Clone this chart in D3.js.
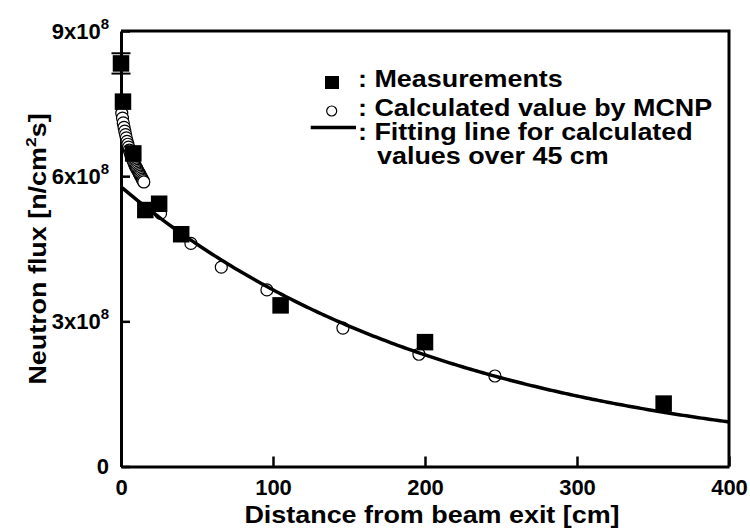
<!DOCTYPE html>
<html>
<head>
<meta charset="utf-8">
<script src="https://cdn.jsdelivr.net/npm/d3@7"></script>
<style>
  body { margin: 0; background: #fff; }
  text { font-family: "Liberation Sans", Arial, sans-serif; font-weight: bold; fill: #000; }
</style>
</head>
<body>
<div id="chart"></div>
<script>
// values in units of 10^8 n/cm^2 s
var measX = [0, 1.3, 8.1, 16, 25.1, 39.6, 105, 200, 357];
var measY = [8.33, 7.54, 6.47, 5.30, 5.43, 4.80, 3.33, 2.57, 1.30];
var measErr = [0.21, 0, 0, 0, 0, 0, 0, 0, 0];

var calcX = [0.5, 1, 1.5, 2, 2.5, 3, 3.5, 4, 4.5, 5, 5.5, 6, 6.5, 7, 7.5, 8, 8.5, 9, 9.5, 10,
  10.5, 11, 11.5, 12, 12.5, 13, 13.5, 14, 14.5, 15, 26, 46, 66, 96, 146, 196, 246];
var calcY = [7.30, 7.20, 7.10, 7.01, 6.93, 6.86, 6.79, 6.72, 6.66, 6.60, 6.54, 6.49, 6.44, 6.40, 6.36,
  6.32, 6.28, 6.24, 6.21, 6.18, 6.15, 6.12, 6.09, 6.06, 6.03, 6.00, 5.97, 5.94, 5.91, 5.88,
  5.23, 4.61, 4.12, 3.65, 2.86, 2.32, 1.87];

// exponential fit to calculated values over 45 cm: A * exp(-x / L)
var fitA = 5.78;
var fitL = 217.7;

var xTicks = [0, 100, 200, 300, 400];
var yTicks = [0, 3, 6, 9];
var yTickMant = ["0", "3x10", "6x10", "9x10"];
var yTickExp = ["", "8", "8", "8"];

var legendLabels = [": Measurements", ": Calculated value by MCNP", ": Fitting line for calculated", "values over 45 cm"];

var svgWidth = 750, svgHeight = 530;
var plotL = 121, plotR = 729, plotT = 31, plotB = 466.5;
var stretch = 1.17;
var font = "'Liberation Sans', Arial, sans-serif";

var svg = d3.select("#chart").append("svg")
  .attr("width", svgWidth)
  .attr("height", svgHeight);

var x = d3.scaleLinear().domain([0, 400]).range([plotL, plotR]);
var y = d3.scaleLinear().domain([0, 9]).range([plotB, plotT]);

// frame (top + right)
svg.append("path")
  .attr("d", `M${plotL},${plotT}H${plotR}V${plotB}`)
  .attr("fill", "none")
  .attr("stroke", "#000")
  .attr("stroke-width", 3);

// x axis
var xAxis = svg.append("g")
  .attr("transform", `translate(0,${plotB})`)
  .call(d3.axisBottom(x).tickValues(xTicks).tickSize(-10).tickSizeOuter(0).tickPadding(13).tickFormat(d3.format("d")));
xAxis.select(".domain").attr("stroke-width", 3);
xAxis.selectAll(".tick line").attr("stroke-width", 2.5);
xAxis.selectAll(".tick text")
  .style("font-size", "22px")
  .style("font-family", font)
  .style("font-weight", "bold");

// y axis
var yAxis = svg.append("g")
  .attr("transform", `translate(${plotL},0)`)
  .call(d3.axisLeft(y).tickValues(yTicks).tickSize(-9).tickSizeOuter(0).tickPadding(12).tickFormat(""));
yAxis.select(".domain").attr("stroke-width", 3);
yAxis.selectAll(".tick line").attr("stroke-width", 2.5);
yAxis.selectAll(".tick text").each(function(d, i) {
  var t = d3.select(this)
    .style("font-size", "22px")
    .style("font-family", font)
    .style("font-weight", "bold");
  t.append("tspan").text(yTickMant[i]);
  if (yTickExp[i]) {
    t.append("tspan").attr("dy", -10).style("font-size", "15px").text(yTickExp[i]);
  }
});

// axis titles
svg.append("text")
  .attr("transform", `translate(432,523) scale(${stretch},1)`)
  .attr("text-anchor", "middle")
  .style("font-size", "23px")
  .text("Distance from beam exit [cm]");

var yTitle = svg.append("text")
  .attr("transform", `translate(46,249) rotate(-90) scale(${stretch},1)`)
  .attr("text-anchor", "middle")
  .style("font-size", "23px");
yTitle.append("tspan").text("Neutron flux [n/cm");
yTitle.append("tspan").attr("dy", -10).style("font-size", "15px").text("2");
yTitle.append("tspan").attr("dy", 10).text("s]");

// MCNP values
svg.append("g").selectAll("circle")
  .data(calcX)
  .enter()
  .append("circle")
  .attr("cx", (d, i) => x(d))
  .attr("cy", (d, i) => y(calcY[i]))
  .attr("r", 6)
  .attr("fill", "#fff")
  .attr("stroke", "#000")
  .attr("stroke-width", 1.2);

// fitting line
var fitPts = d3.range(0, 401, 2).map(d => [d, fitA * Math.exp(-d / fitL)]);
svg.append("path")
  .datum(fitPts)
  .attr("d", d3.line().x(d => x(d[0])).y(d => y(d[1])))
  .attr("fill", "none")
  .attr("stroke", "#000")
  .attr("stroke-width", 3.5);

// measurements with error bars
var sq = 16.5;
var errG = svg.append("g").attr("stroke", "#000").attr("stroke-width", 2);
measX.forEach(function(d, i) {
  if (!measErr[i]) return;
  var cx = x(d), y0 = y(measY[i] - measErr[i]), y1 = y(measY[i] + measErr[i]);
  errG.append("line").attr("x1", cx).attr("x2", cx).attr("y1", y0).attr("y2", y1);
  errG.append("line").attr("x1", cx - 9.5).attr("x2", cx + 9.5).attr("y1", y0).attr("y2", y0);
  errG.append("line").attr("x1", cx - 9.5).attr("x2", cx + 9.5).attr("y1", y1).attr("y2", y1);
});

svg.append("g").selectAll("rect")
  .data(measX)
  .enter()
  .append("rect")
  .attr("x", d => x(d) - sq / 2)
  .attr("y", (d, i) => y(measY[i]) - sq / 2)
  .attr("width", sq)
  .attr("height", sq)
  .attr("fill", "#000");

// legend
var legend = svg.append("g");
legend.append("rect")
  .attr("x", 325).attr("y", 76)
  .attr("width", 14).attr("height", 13)
  .attr("fill", "#000");
legend.append("circle")
  .attr("cx", 331.7).attr("cy", 111)
  .attr("r", 5)
  .attr("fill", "#fff")
  .attr("stroke", "#000")
  .attr("stroke-width", 1.2);
legend.append("line")
  .attr("x1", 310.7).attr("x2", 356)
  .attr("y1", 127.5).attr("y2", 127.5)
  .attr("stroke", "#000")
  .attr("stroke-width", 3.5);

var legendPos = [[358, 87], [358, 116], [358, 140], [377, 164]];
legend.selectAll("text.lab")
  .data(legendLabels)
  .enter()
  .append("text")
  .attr("class", "lab")
  .attr("transform", (d, i) => `translate(${legendPos[i][0]},${legendPos[i][1]}) scale(${stretch},1)`)
  .style("font-size", "23px")
  .text(d => d);
</script>
</body>
</html>
